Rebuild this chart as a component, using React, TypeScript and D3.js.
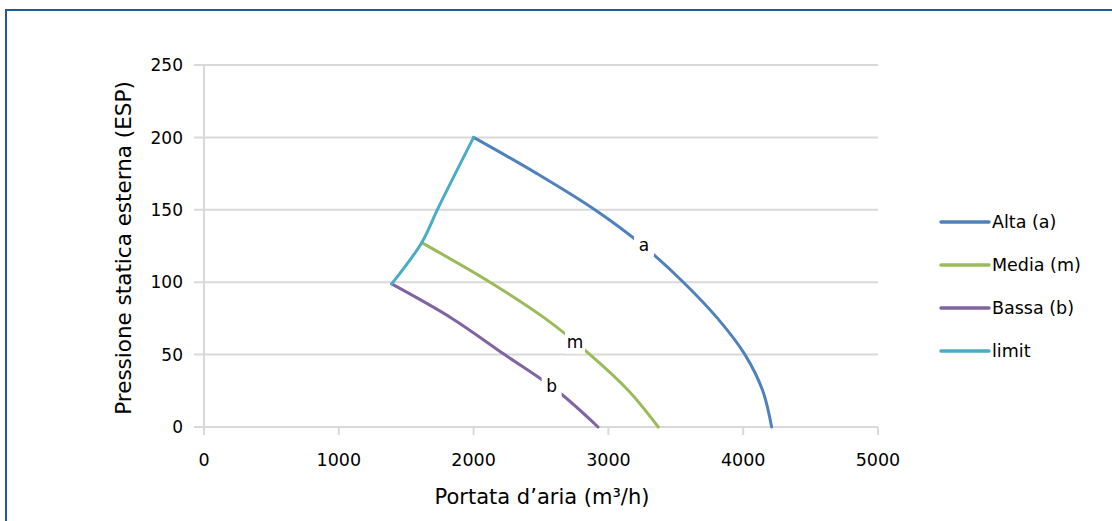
import React from "react";
import * as d3 from "d3";

const xTicks = [0, 1000, 2000, 3000, 4000, 5000];
const yTicks = [0, 50, 100, 150, 200, 250];

const altaX = [2000, 2470, 2900, 3260, 3556, 3810, 4013, 4145, 4211];
const altaY = [200, 175, 150, 125, 100, 75, 50, 25, 0];
const mediaX = [1615, 2122, 2530, 2864, 3150, 3370];
const mediaY = [127.3, 100, 75, 50, 25, 0];
const bassaX = [1392, 1840, 2230, 2620, 2923];
const bassaY = [98.8, 75, 50, 25, 0];
const limitX = [1392, 1615, 1736, 2000];
const limitY = [98.8, 127.3, 151, 200];

const seriesNames = ["Alta (a)", "Media (m)", "Bassa (b)", "limit"];
const seriesColors = ["#4F81BD", "#9BBB59", "#8064A2", "#4BACC6"];

const curveLabels = ["a", "m", "b"];
const curveLabelX = [3264, 2752, 2579];
const curveLabelY = [126, 58.9, 28.3];

const FONT = "'DejaVu Sans', 'Open Sans', sans-serif";

export default function App() {
  const W = 1112, H = 521;
  const x = d3.scaleLinear().domain([0, 5000]).range([204, 878]);
  const y = d3.scaleLinear().domain([0, 250]).range([427, 65]);
  const line = d3
    .line<[number, number]>()
    .x((d) => x(d[0]))
    .y((d) => y(d[1]))
    .curve(d3.curveCatmullRom.alpha(0.5));
  const zip = (a: number[], b: number[]) => a.map((v, i) => [v, b[i]] as [number, number]);
  const series = [zip(altaX, altaY), zip(mediaX, mediaY), zip(bassaX, bassaY), zip(limitX, limitY)];
  const legendY = [222, 265, 308, 351];

  return (
    <svg width={W} height={H} style={{ position: "absolute", left: 0, top: 0, background: "#fff" }} fontFamily={FONT}>
      <rect x={6} y={10} width={1200} height={600} fill="#fff" stroke="#1F5D9A" strokeWidth={2} />
      {yTicks.map((t) => (
        <g key={"y" + t}>
          <line x1={194} x2={x(5000)} y1={y(t)} y2={y(t)} stroke="#D9D9D9" strokeWidth={2} />
          <text x={183} y={y(t)} dy="0.36em" textAnchor="end" fontSize={17} fill="#000">{t}</text>
        </g>
      ))}
      <line x1={x(0)} x2={x(0)} y1={y(250)} y2={y(0)} stroke="#D9D9D9" strokeWidth={2} />
      {xTicks.map((t) => (
        <g key={"x" + t}>
          <line x1={x(t)} x2={x(t)} y1={y(0)} y2={y(0) + 8} stroke="#D9D9D9" strokeWidth={2} />
          <text x={x(t)} y={466} textAnchor="middle" fontSize={17.5} fill="#000">{t}</text>
        </g>
      ))}
      {series.map((s, i) => (
        <path key={"s" + i} d={line(s) || ""} fill="none" stroke={seriesColors[i]} strokeWidth={3} strokeLinecap="round" strokeLinejoin="round" />
      ))}
      {curveLabels.map((l, i) => (
        <g key={"l" + l}>
          <rect x={x(curveLabelX[i]) - 10} y={y(curveLabelY[i]) - 12} width={20} height={24} fill="#fff" />
          <text x={x(curveLabelX[i])} y={y(curveLabelY[i])} dy="0.36em" textAnchor="middle" fontSize={17} fill="#000">{l}</text>
        </g>
      ))}
      {seriesNames.map((n, i) => (
        <g key={"g" + n}>
          <line x1={941} x2={989} y1={legendY[i]} y2={legendY[i]} stroke={seriesColors[i]} strokeWidth={3.5} strokeLinecap="round" />
          <text x={992} y={legendY[i]} dy="0.36em" fontSize={17.5} fill="#000">{n}</text>
        </g>
      ))}
      <text x={542} y={504} textAnchor="middle" fontSize={21} fill="#000">Portata d’aria (m³/h)</text>
      <text transform="translate(131,248) rotate(-90)" textAnchor="middle" fontSize={21.5} fill="#000">Pressione statica esterna (ESP)</text>
    </svg>
  );
}
